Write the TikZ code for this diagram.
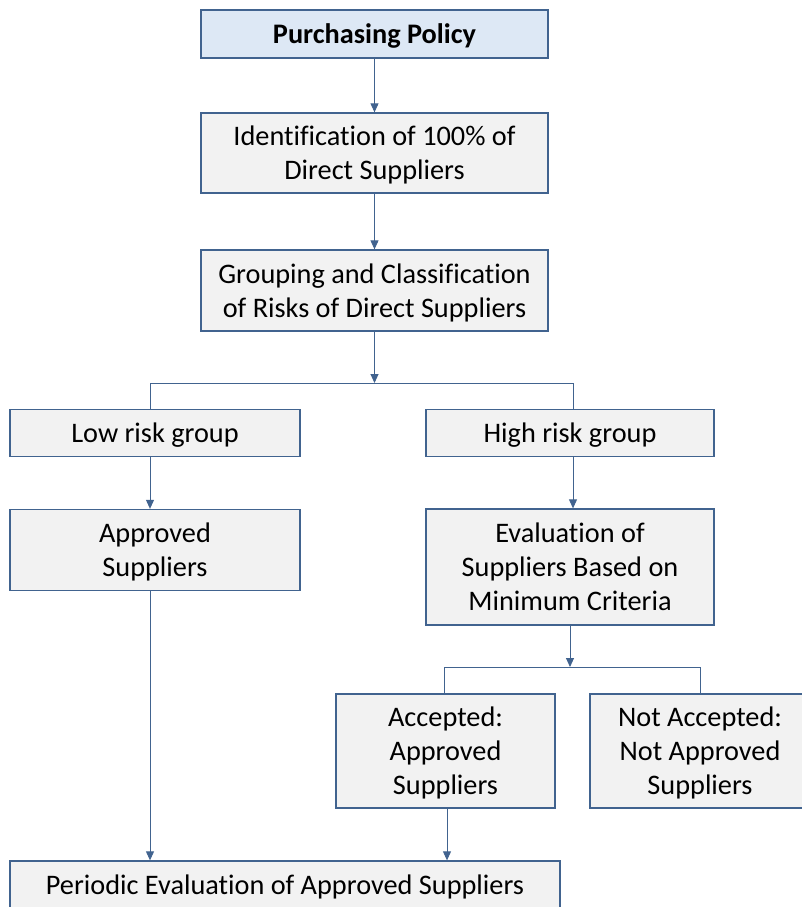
\documentclass[tikz,border=0pt]{standalone}
\usepackage{fontspec}
\setmainfont{Carlito}[Ligatures=NoCommon]
\usetikzlibrary{arrows.meta}
\definecolor{bord}{HTML}{41638F}
\definecolor{boxfill}{HTML}{F2F2F2}
\definecolor{topfill}{HTML}{DDE8F5}
\newcommand\lstr{\rule[-7pt]{0pt}{33pt}}
\begin{document}
\begin{tikzpicture}[x=1pt,y=-1pt,
  box/.style={draw=bord, line width=1.3pt, fill=boxfill, align=center, inner sep=0pt,
    font=\fontsize{28.3}{34}\selectfont},
  conn/.style={draw=bord, line width=0.9pt},
  arr/.style={conn, -{Triangle[width=8pt,length=9pt]}}]
\useasboundingbox (0,0) rectangle (802,907);
\clip (0,0) rectangle (802,907);
\node[box, fill=topfill, minimum width=347pt, minimum height=48pt, font=\fontsize{28.3}{34}\selectfont\bfseries] (pp) at (374.5,34) {\lstr Purchasing Policy};
\node[box, minimum width=347pt, minimum height=80pt] (id) at (374.5,153) {\lstr Identification of 100\% of\\\lstr Direct Suppliers};
\node[box, minimum width=347pt, minimum height=81pt] (grp) at (374.5,290.5) {\lstr Grouping and Classification\\\lstr of Risks of Direct Suppliers};
\node[box, minimum width=290pt, minimum height=47pt] (low) at (155,433) {\lstr Low risk group};
\node[box, minimum width=288pt, minimum height=47pt] (high) at (570,433) {\lstr High risk group};
\node[box, minimum width=290pt, minimum height=81pt] (appr) at (155,550) {\lstr Approved\\\lstr Suppliers};
\node[box, minimum width=288pt, minimum height=116pt] (eval) at (570,567) {\lstr Evaluation of\\\lstr Suppliers Based on\\\lstr Minimum Criteria};
\node[box, minimum width=219pt, minimum height=114pt] (acc) at (445.5,751) {\lstr Accepted:\\\lstr Approved\\\lstr Suppliers};
\node[box, minimum width=220pt, minimum height=114pt] (nacc) at (700,751) {\lstr Not Accepted:\\\lstr Not Approved\\\lstr Suppliers};
\node[box, minimum width=550pt, minimum height=48pt] (per) at (285,885) {\lstr Periodic Evaluation of Approved Suppliers};
\coordinate (b1) at (374.5,383);
\coordinate (b1l) at (150,383);
\coordinate (b1r) at (573,383);
\coordinate (b2) at (570,667);
\coordinate (b2l) at (444,667);
\coordinate (b2r) at (700,667);
\coordinate (c1) at (150,0);
\coordinate (c2) at (447,0);
\draw[arr] (pp) -- (id);
\draw[arr] (id) -- (grp);
\draw[arr] (grp) -- (b1);
\draw[conn] (low.north -| b1l) -- (b1l) -- (b1r) -- (high.north -| b1r);
\draw[arr] (low.south -| b1l) -- (appr.north -| b1l);
\draw[arr] (high.south -| b1r) -- (eval.north -| b1r);
\draw[arr] (eval) -- (b2);
\draw[conn] (acc.north -| b2l) -- (b2l) -- (b2r) -- (nacc.north -| b2r);
\draw[arr] (appr.south -| c1) -- (per.north -| c1);
\draw[arr] (acc.south -| c2) -- (per.north -| c2);
\end{tikzpicture}
\end{document}
